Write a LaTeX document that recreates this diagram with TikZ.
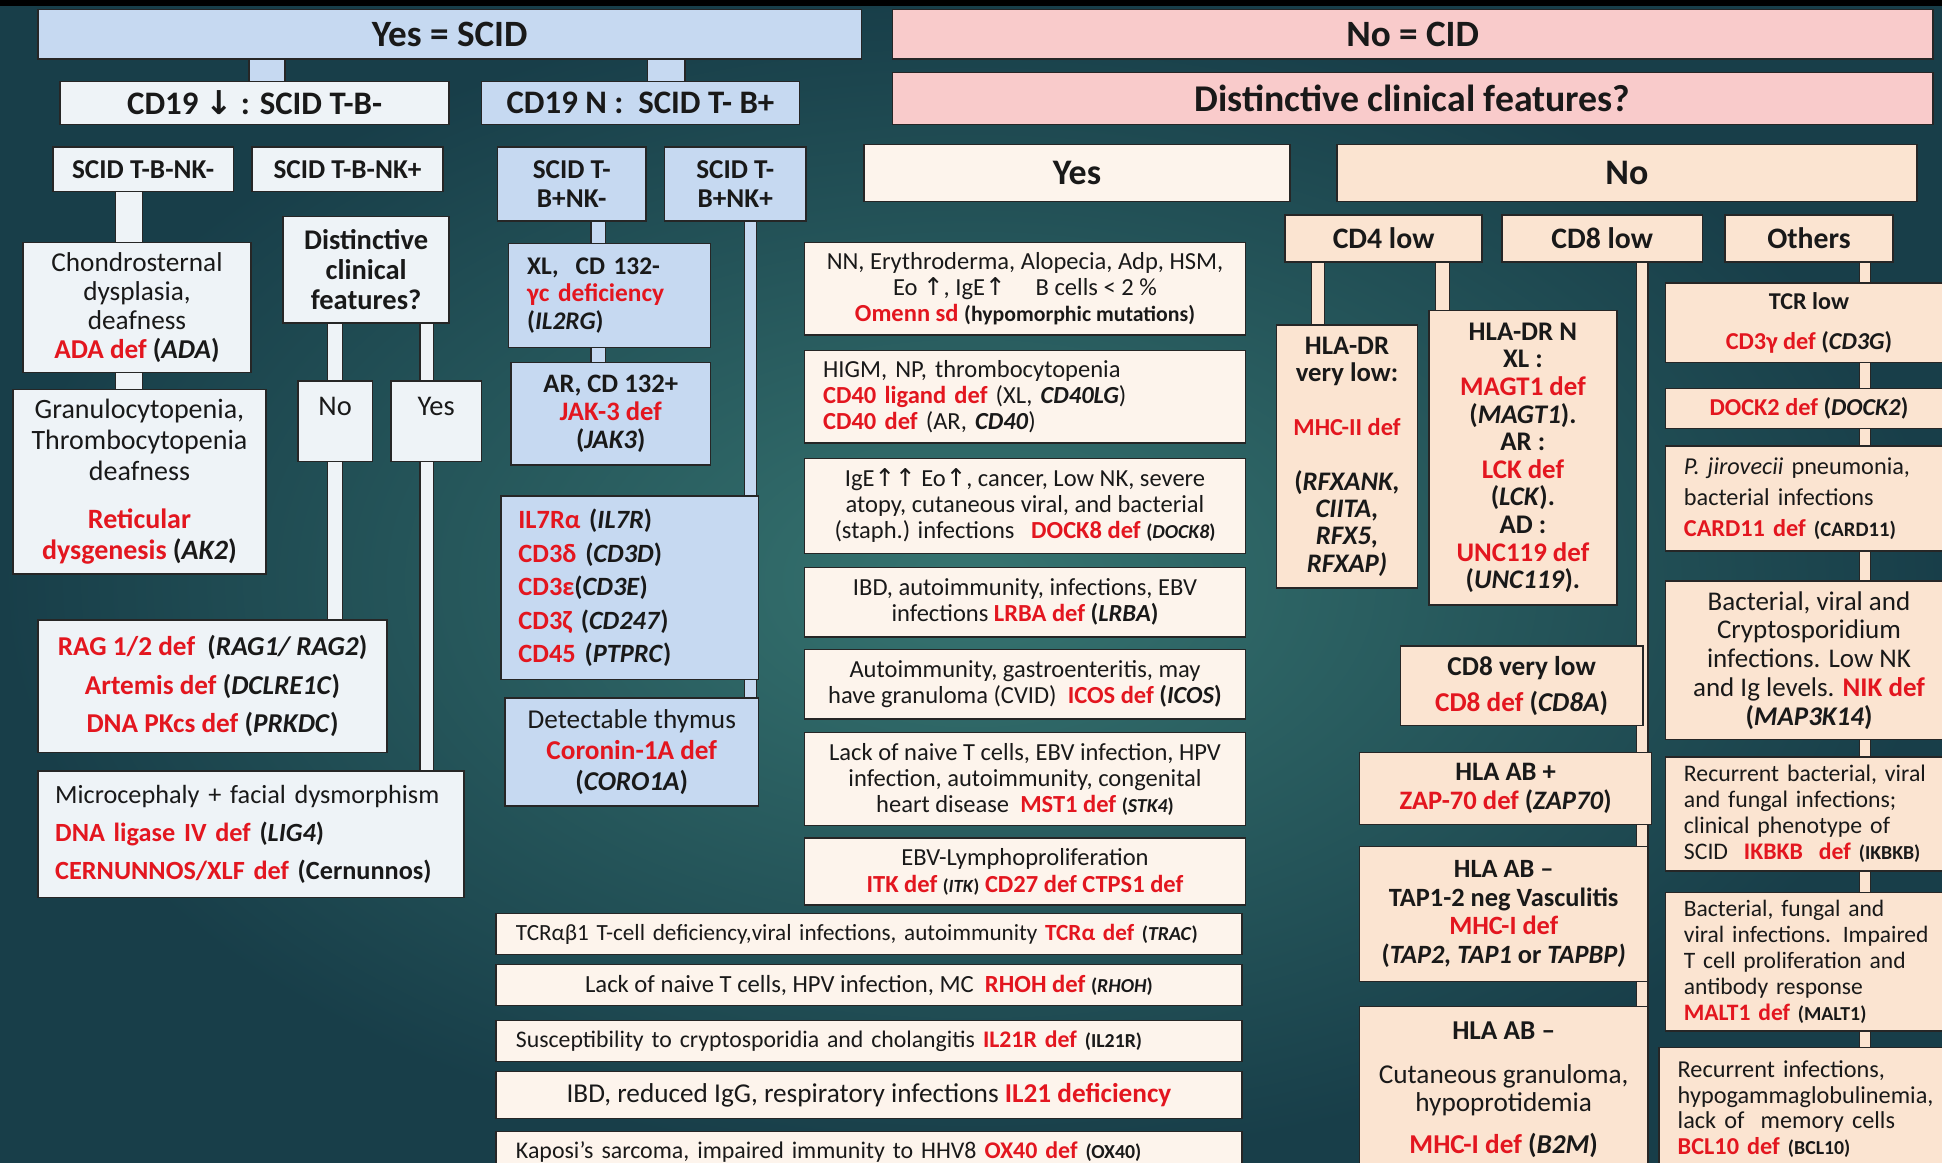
\documentclass[tikz,border=0pt]{standalone}
\usepackage{fontspec}
\setmainfont{Carlito}
\newfontfamily\arrowfont{DejaVu Sans}
\usetikzlibrary{positioning, backgrounds}
\definecolor{scidblue}{HTML}{C6D9F1}
\definecolor{scidpale}{HTML}{EEF3F7}
\definecolor{cidpink}{HTML}{F9CBCB}
\definecolor{cidcream}{HTML}{FDF4EC}
\definecolor{cidpeach}{HTML}{FBE4D1}
\definecolor{boxborder}{HTML}{262626}
\definecolor{defred}{HTML}{E3161F}
\definecolor{bginner}{HTML}{367470}
\definecolor{bgouter}{HTML}{183E49}
\newcommand{\fsz}[2]{\fontsize{#1}{#2}\selectfont}
\newcommand{\redbf}[1]{\textcolor{defred}{\bfseries #1}}
\newcommand{\genep}[1]{\textbf{(\textit{#1})}}
\newcommand{\arrup}{{\arrowfont ↑}}
\newcommand{\arrdown}{{\arrowfont ↓}}
\hyphenpenalty=10000
\exhyphenpenalty=10000

\begin{document}
\begin{tikzpicture}[x=1pt, y=-1pt,
      box/.style={draw=boxborder, line width=1.2pt, inner sep=0pt,
        align=center, anchor=north west, text=black!90},
      wh/.style 2 args={minimum width=#1pt, minimum height=#2pt},
      stub/.style={draw=boxborder, line width=1pt, double=#1,
        double distance=10pt}
    ]
      \useasboundingbox (0,0) rectangle (1568,939);
      \clip (0,0) rectangle (1568,939);

      % top rows
      \node[box, wh={665}{40}, fill=scidblue, font=\fsz{30}{32}\bfseries] (scid) at (30,7) {Yes = SCID};
      \node[box, wh={840}{40}, fill=cidpink, font=\fsz{30}{32}\bfseries] (cid) at (720,7) {No = CID};
      \node[box, wh={314}{35}, fill=scidpale, font=\fsz{26.5}{28}\bfseries] (cd19low) at (48,65) {CD19 \arrdown\ : SCID T-B-};
      \node[box, wh={257}{35}, fill=scidblue, font=\fsz{26.5}{28}\bfseries] (cd19n) at (388,65) {CD19 N :\ \ SCID T- B+};
      \node[box, wh={840}{42}, fill=cidpink, font=\fsz{30.5}{32}\bfseries] (cidq) at (720,58) {Distinctive clinical features?};
      \node[box, wh={146}{36}, fill=scidpale, font=\fsz{22}{24}\bfseries] (tbnkm) at (42,118) {SCID T-B-NK-};
      \node[box, wh={154}{36}, fill=scidpale, font=\fsz{22}{24}\bfseries] (tbnkp) at (203,118) {SCID T-B-NK+};
      \node[box, wh={120}{60}, fill=scidblue, font=\fsz{22}{23}\bfseries] (tbpnkm) at (401,118) {SCID T-\\B+NK-};
      \node[box, wh={114}{60}, fill=scidblue, font=\fsz{22}{23}\bfseries] (tbpnkp) at (536,118) {SCID T-\\B+NK+};
      \node[box, wh={344}{46}, fill=cidcream, font=\fsz{29}{31}\bfseries] (yesq) at (697,116) {Yes};
      \node[box, wh={468}{46}, fill=cidpeach, font=\fsz{29}{31}\bfseries] (noq) at (1079,116) {No};

      % SCID T-B-
      \node[box, wh={184}{105}, fill=scidpale, font=\fsz{22}{23.5}] (ada) at (18,195) {Chondrosternal\\dysplasia,\\deafness\\\redbf{ADA def} \genep{ADA}};
      \node[box, wh={204}{149}, fill=scidpale, font=\fsz{22.6}{25}] (ak2) at (10,314) {Granulocytopenia,\\Thrombocytopenia\\deafness\\[14pt]\redbf{Reticular}\\\redbf{dysgenesis} \genep{AK2}};
      \node[box, wh={134}{86}, fill=scidpale, font=\fsz{23}{24}\bfseries] (cfq) at (228,174) {Distinctive\\clinical\\features?};
      \node[box, wh={60}{65}, fill=scidpale, font=\fsz{23}{24}] (noleft) at (240,307) {No\\\mbox{}};
      \node[box, wh={73}{65}, fill=scidpale, font=\fsz{23}{24}] (yesleft) at (315,307) {Yes\\\mbox{}};
      \node[box, wh={282}{107}, fill=scidpale, font=\fsz{22}{31}] (rag) at (30,500) {\redbf{RAG 1/2 def}\ \ \genep{RAG1/ RAG2}\\\redbf{Artemis def} \genep{DCLRE1C}\\\redbf{DNA PKcs def} \genep{PRKDC}};
      \node[box, wh={344}{102}, fill=scidpale, font=\fsz{21.2}{30.5}, align=left, inner xsep=14pt, text width=316pt] (lig4) at (30,622) {Microcephaly + facial dysmorphism\\\redbf{DNA ligase IV def} \genep{LIG4}\\\redbf{CERNUNNOS/XLF def} \textbf{(Cernunnos)}};

      % SCID T-B+
      \node[box, wh={163}{84}, fill=scidblue, font=\fsz{20.5}{22.5}\bfseries, align=left, inner xsep=15pt, text width=133pt] (il2rg) at (410,196) {XL,\ \ CD 132-\\\redbf{γc deficiency}\\(\textit{IL2RG})};
      \node[box, wh={161}{83}, fill=scidblue, font=\fsz{21.5}{22.5}\bfseries] (jak3) at (412,292) {AR, CD 132+\\\redbf{JAK-3 def}\\(\textit{JAK3})};
      \node[box, wh={208}{148}, fill=scidblue, font=\fsz{21.3}{27}\bfseries, align=left, inner xsep=14pt, text width=180pt] (il7r) at (404,400) {\redbf{IL7Rα} (\textit{IL7R})\\\redbf{CD3δ} (\textit{CD3D})\\\redbf{CD3ε}(\textit{CD3E})\\\redbf{CD3ζ} (\textit{CD247})\\\redbf{CD45} (\textit{PTPRC})};
      \node[box, wh={205}{87}, fill=scidblue, font=\fsz{22}{25}] (coro) at (407,563) {Detectable thymus\\\redbf{Coronin-1A def}\\\genep{CORO1A}};

      % CID, distinctive features
      \node[box, wh={356}{75}, fill=cidcream, font=\fsz{19.8}{21}] (omenn) at (649,195) {NN, Erythroderma, Alopecia, Adp, HSM,\\Eo \arrup, IgE\arrup\quad\ B cells < 2 \%\\\redbf{Omenn sd} {\bfseries\fsz{17.6}{21}(hypomorphic mutations)}};
      \node[box, wh={356}{75}, fill=cidcream, font=\fsz{19.8}{21}, align=left, inner xsep=15pt, text width=326pt, below=11pt of omenn] (cd40) {HIGM, NP, thrombocytopenia\\\redbf{CD40 ligand def} (XL, \textbf{\textit{CD40LG}})\\\redbf{CD40 def} (AR, \textbf{\textit{CD40}})};
      \node[box, wh={356}{77}, fill=cidcream, font=\fsz{19.8}{21}, below=11pt of cd40] (dock8) {IgE\arrup\arrup\ Eo\arrup, cancer, Low NK, severe\\atopy, cutaneous viral, and bacterial\\(staph.) infections\ \ \ \redbf{DOCK8 def} {\fsz{16}{21}\genep{DOCK8}}};
      \node[box, wh={356}{56}, fill=cidcream, font=\fsz{19.8}{21}, below=10pt of dock8] (lrba) {IBD, autoimmunity, infections, EBV\\infections \redbf{LRBA def} \genep{LRBA}};
      \node[box, wh={356}{56}, fill=cidcream, font=\fsz{19.8}{21}, below=9pt of lrba] (icos) {Autoimmunity, gastroenteritis, may\\have granuloma (CVID)\ \ \redbf{ICOS def} \genep{ICOS}};
      \node[box, wh={356}{75}, fill=cidcream, font=\fsz{19.8}{21}, below=10pt of icos] (mst1) {Lack of naive T cells, EBV infection, HPV\\infection, autoimmunity, congenital\\heart disease\ \ \redbf{MST1 def} {\fsz{16}{21}\genep{STK4}}};
      \node[box, wh={356}{54}, fill=cidcream, font=\fsz{19.8}{22}, below=9pt of mst1] (itk) {EBV-Lymphoproliferation\\\redbf{ITK def} {\fsz{15}{21}\genep{ITK}} \redbf{CD27 def CTPS1 def}};

      \node[box, wh={602}{33}, fill=cidcream, font=\fsz{18.7}{20}, align=left, inner xsep=16pt, text width=570pt] (trac) at (400,737) {TCRαβ1 T-cell deficiency,viral infections, autoimmunity \redbf{TCRα def} {\fsz{16}{20}\genep{TRAC}}};
      \node[box, wh={602}{33}, fill=cidcream, font=\fsz{19.9}{20}, below=7pt of trac] (rhoh) {Lack of naive T cells, HPV infection, MC\ \ \redbf{RHOH def} {\fsz{16}{20}\genep{RHOH}}};
      \node[box, wh={602}{33}, fill=cidcream, font=\fsz{19.2}{20}, align=left, inner xsep=16pt, text width=570pt, below=11pt of rhoh] (il21r) {Susceptibility to cryptosporidia and cholangitis \redbf{IL21R def} {\fsz{16}{20}\bfseries(IL21R)}};
      \node[box, wh={602}{38}, fill=cidcream, font=\fsz{22}{23}, below=7pt of il21r] (il21) {IBD, reduced IgG, respiratory infections \redbf{IL21 deficiency}};
      \node[box, wh={602}{34}, fill=cidcream, font=\fsz{19.3}{20}, align=left, inner xsep=16pt, text width=570pt, below=9pt of il21] (ox40) {Kaposi’s sarcoma, impaired immunity to HHV8 \redbf{OX40 def} {\fsz{16}{20}\bfseries(OX40)}};

      % CID, no distinctive features
      \node[box, wh={159}{38}, fill=cidpeach, font=\fsz{24}{26}\bfseries] (cd4low) at (1037,173) {CD4 low};
      \node[box, wh={162}{38}, fill=cidpeach, font=\fsz{24}{26}\bfseries] (cd8low) at (1212,173) {CD8 low};
      \node[box, wh={136}{38}, fill=cidpeach, font=\fsz{24}{26}\bfseries] (others) at (1392,173) {Others};

      \node[box, wh={114}{212}, fill=cidpeach, font=\fsz{21.6}{22}\bfseries] (mhcii) at (1030,262) {HLA-DR\\very low:\\[22pt]{\fsz{19.7}{22}\redbf{MHC-II def}}\\[22pt](\textit{RFXANK,}\\\textit{CIITA,}\\\textit{RFX5,}\\\textit{RFXAP)}};
      \node[box, wh={152}{238}, fill=cidpeach, font=\fsz{21.7}{22.3}\bfseries] (hladrn) at (1153,250) {HLA-DR N\\XL :\\\redbf{MAGT1 def}\\(\textit{MAGT1}).\\AR :\\\redbf{LCK def}\\(\textit{LCK}).\\AD :\\\redbf{UNC119 def}\\(\textit{UNC119}).};
      \node[box, wh={196}{64}, fill=cidpeach, font=\fsz{22}{29}] (cd8a) at (1130,521) {\textbf{CD8 very low}\\\redbf{CD8 def} \genep{CD8A}};
      \node[box, wh={236}{58}, fill=cidpeach, font=\fsz{21.5}{23}\bfseries] (zap70) at (1097,607) {HLA AB +\\\redbf{ZAP-70 def} (\textit{ZAP70})};
      \node[box, wh={233}{109}, fill=cidpeach, font=\fsz{21.3}{23}\bfseries] (tap) at (1097,683) {HLA AB –\\TAP1-2 neg Vasculitis\\\redbf{MHC-I def}\\(\textit{TAP2, TAP1} or \textit{TAPBP)}};
      \node[box, wh={233}{135}, fill=cidpeach, font=\fsz{22}{23}] (b2m) at (1097,812) {\textbf{HLA AB –}\\[12pt]Cutaneous granuloma,\\hypoprotidemia\\[11pt]\redbf{MHC-I def} \genep{B2M}};

      \node[box, wh={232}{64}, fill=cidpeach, font=\fsz{19.6}{32}] (cd3g) at (1344,228) {{\fsz{19.5}{32}\bfseries TCR low}\\\redbf{CD3γ def} \genep{CD3G}};
      \node[box, wh={232}{32}, fill=cidpeach, font=\fsz{19.6}{21}, below=20pt of cd3g] (dock2) {\redbf{DOCK2 def} \genep{DOCK2}};
      \node[box, wh={232}{85}, fill=cidpeach, font=\fsz{19.6}{25}, align=left, inner xsep=15pt, text width=202pt, below=13pt of dock2] (card11) {\textit{P. jirovecii} pneumonia,\\bacterial infections\\\redbf{CARD11 def} {\fsz{16.7}{25}\bfseries(CARD11)}};
      \node[box, wh={232}{128}, fill=cidpeach, font=\fsz{21.8}{23.3}, below=23pt of card11] (nik) {Bacterial, viral and\\Cryptosporidium\\infections. Low NK\\and Ig levels. \redbf{NIK def}\\\genep{MAP3K14}};
      \node[box, wh={232}{92}, fill=cidpeach, font=\fsz{19.2}{21}, align=left, inner xsep=15pt, text width=202pt, below=13pt of nik] (ikbkb) {Recurrent bacterial, viral\\and fungal infections;\\clinical phenotype of\\SCID\ \ \redbf{IKBKB\ \ def} {\fsz{16}{21}\bfseries(IKBKB)}};
      \node[box, wh={232}{112}, fill=cidpeach, font=\fsz{19}{20.8}, align=left, inner xsep=15pt, text width=202pt, below=16pt of ikbkb] (malt1) {Bacterial, fungal and\\viral infections. Impaired\\T cell proliferation and\\antibody response\\\redbf{MALT1 def} {\fsz{16}{20.8}\bfseries(MALT1)}};
      \node[box, wh={237}{100}, fill=cidpeach, font=\fsz{19.6}{20.7}, align=left, inner xsep=15pt, text width=207pt] (bcl10) at (1339,845) {Recurrent infections,\\hypogammaglobulinemia,\\lack of\ \ memory cells\\\redbf{BCL10 def} {\fsz{16}{20.7}\bfseries(BCL10)}};

      \begin{scope}[on background layer]
        \shade[inner color=bginner, outer color=bgouter] (0,0) rectangle (1568,939);
        \fill[black] (0,0) rectangle (1568,5);
        % connectors
        \draw[stub=scidblue, double distance=28pt] ([xshift=10pt]cd19low.north |- scid.south) -- ([xshift=10pt]cd19low.north);
        \draw[stub=scidblue, double distance=29pt] ([xshift=21pt]cd19n.north |- scid.south) -- ([xshift=21pt]cd19n.north);
        \draw[stub=scidpale, double distance=21pt] ([xshift=-11.5pt]tbnkm.south) -- ([xshift=-11.5pt]tbnkm.south |- ada.north);
        \draw[stub=scidpale, double distance=21pt] ([xshift=-11.5pt]tbnkm.south |- ada.south) -- ([xshift=-11.5pt]tbnkm.south |- ak2.north);
        \draw[stub=scidpale, double distance=11pt] (noleft.north |- cfq.south) -- (noleft.north);
        \draw[stub=scidpale, double distance=10pt] ([xshift=-7.5pt]yesleft.north |- cfq.south) -- ([xshift=-7.5pt]yesleft.north);
        \draw[stub=scidpale, double distance=11pt] (noleft.south) -- (noleft.south |- rag.north);
        \draw[stub=scidpale, double distance=10pt] ([xshift=-7.5pt]yesleft.south) -- ([xshift=-7.5pt]yesleft.south |- lig4.north);
        \draw[stub=scidblue, double distance=11pt] ([xshift=21.5pt]tbpnkm.south) -- ([xshift=21.5pt]tbpnkm.south |- il2rg.north);
        \draw[stub=scidblue, double distance=11pt] ([xshift=21.5pt]tbpnkm.south |- il2rg.south) -- ([xshift=21.5pt]tbpnkm.south |- jak3.north);
        \draw[stub=scidblue, double distance=9pt] ([xshift=12.5pt]tbpnkp.south) -- ([xshift=12.5pt]tbpnkp.south |- il7r.north);
        \draw[stub=scidblue, double distance=9pt] ([xshift=12.5pt]tbpnkp.south |- il7r.south) -- ([xshift=12.5pt]tbpnkp.south |- coro.north);
        \draw[stub=cidpeach, double distance=9pt] ([xshift=-53pt]cd4low.south) -- ([xshift=-53pt]cd4low.south |- mhcii.north);
        \draw[stub=cidpeach, double distance=10pt] ([xshift=47.5pt]cd4low.south) -- ([xshift=47.5pt]cd4low.south |- hladrn.north);
        \draw[stub=cidpeach, double distance=8pt] ([xshift=32.5pt]cd8low.south) -- ([xshift=32.5pt]cd8low.south |- b2m.north);
        \draw[stub=cidpeach, double distance=8pt] ([xshift=45pt]others.south) -- ([xshift=45pt]others.south |- bcl10.north);
      \end{scope}
    \end{tikzpicture}
\end{document}
